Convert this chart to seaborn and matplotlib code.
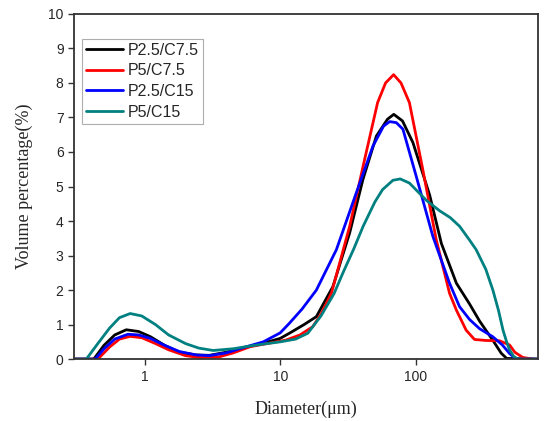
import numpy as np
import pandas as pd
import seaborn as sns
import matplotlib
matplotlib.use("Agg")
import matplotlib.pyplot as plt
from matplotlib.ticker import FixedLocator, NullLocator

# Particle size distribution values
labels = ["P2.5/C7.5", "P5/C7.5", "P2.5/C15", "P5/C15"]
colors = ["#000000", "#ff0000", "#0000ff", "#008080"]

d_black = [0.3, 0.42, 0.5, 0.6, 0.73, 0.9, 1.1, 1.4, 1.8, 2.4, 3, 4, 5, 7.5, 10, 11.7, 15,
           18.5, 24.5, 32.6, 40.8, 51.3, 62, 69, 80, 95.6, 127, 155, 200, 250, 297, 371,
           429, 470, 800]
v_black = [0, 0, 0.4, 0.7, 0.85, 0.8, 0.65, 0.4, 0.2, 0.12, 0.11, 0.2, 0.3, 0.46, 0.6, 0.75, 1.0,
           1.23, 2.1, 3.66, 5.2, 6.46, 6.95, 7.09, 6.9, 6.27, 4.75, 3.35, 2.2, 1.6, 1.1, 0.55,
           0.17, 0.02, 0]

d_red = [0.3, 0.45, 0.55, 0.65, 0.78, 0.95, 1.2, 1.5, 2, 2.5, 3.5, 4.5, 6, 8, 11, 14, 17.4,
         20, 23.9, 32.6, 42, 52.4, 60, 68.8, 78, 90, 113, 142, 178, 200, 236, 272, 330, 417,
         494, 540, 617, 731, 800]
v_red = [0, 0, 0.35, 0.58, 0.66, 0.62, 0.45, 0.27, 0.1, 0.05, 0.06, 0.18, 0.36, 0.45, 0.55, 0.7, 0.94,
         1.3, 1.91, 3.85, 5.78, 7.43, 8.0, 8.24, 8.0, 7.43, 5.49, 3.46, 1.91, 1.42, 0.84, 0.57, 0.54, 0.53,
         0.41, 0.2, 0.05, 0, 0]

d_blue = [0.3, 0.43, 0.5, 0.6, 0.75, 0.9, 1.1, 1.4, 1.8, 2.4, 3, 4, 5, 7.5, 10, 11.7, 14.5,
          18.5, 26, 36.5, 48.4, 58, 64.3, 72, 80.6, 101, 134, 178, 211, 250, 297, 371, 437,
          495, 553, 800]
v_blue = [0, 0, 0.3, 0.58, 0.72, 0.7, 0.6, 0.4, 0.22, 0.12, 0.1, 0.18, 0.3, 0.5, 0.76, 1.04, 1.45,
          2.0, 3.17, 4.82, 6.17, 6.75, 6.88, 6.85, 6.66, 5.3, 3.56, 2.2, 1.52, 1.15, 0.88, 0.65, 0.41,
          0.16, 0, 0]

d_teal = [0.3, 0.37, 0.45, 0.55, 0.65, 0.78, 0.95, 1.2, 1.5, 2.0, 2.5, 3.2, 4.5, 6, 8, 10, 13,
          16, 20, 25, 29, 35, 41, 50, 57, 68, 77, 90, 120, 150, 180, 211, 250, 280, 330, 372,
          410, 442, 470, 495, 530, 570, 800]
v_teal = [0, 0, 0.45, 0.9, 1.2, 1.32, 1.25, 1.0, 0.7, 0.45, 0.32, 0.25, 0.3, 0.38, 0.45, 0.5, 0.58,
          0.75, 1.25, 1.9, 2.49, 3.2, 3.85, 4.55, 4.91, 5.18, 5.22, 5.1, 4.6, 4.3, 4.1, 3.85, 3.45, 3.17, 2.6, 2.0,
          1.4, 0.84, 0.5, 0.26, 0.08, 0, 0]

frames = []
for lab, d, v in zip(labels, [d_black, d_red, d_blue, d_teal], [v_black, v_red, v_blue, v_teal]):
    frames.append(pd.DataFrame({"Diameter": d, "Volume": v, "Sample": lab}))
df = pd.concat(frames, ignore_index=True)

sns.set_style("white")
plt.rcParams["font.family"] = ["Liberation Sans", "DejaVu Sans"]

fig = plt.figure(figsize=(5.5, 4.21), dpi=100)
ax = fig.add_axes([0.1345, 0.147, 0.8435, 0.82])

sns.lineplot(data=df, x="Diameter", y="Volume", hue="Sample", hue_order=labels,
             palette=colors, linewidth=2.0, sort=False, estimator=None, ax=ax)

ax.set_xscale("log")
ax.set_xlim(0.3, 800)
ax.set_ylim(0, 10)
ax.xaxis.set_major_locator(FixedLocator([1, 10, 100]))
ax.xaxis.set_minor_locator(NullLocator())
ax.set_xticklabels(["1", "10", "100"])
ax.set_yticks(range(0, 11))

for s in ax.spines.values():
    s.set_color("#333333")
    s.set_linewidth(1.3)
ax.tick_params(axis="both", which="major", direction="out", length=4, width=1.0,
               color="#333333", labelsize=10, bottom=True, left=True, top=False, right=False)

serif = ["Liberation Serif", "DejaVu Serif"]
ax.set_xlabel("Diameter(μm)", fontsize=13, family=serif, labelpad=12)
ax.set_ylabel("Volume percentage(%)", fontsize=13, family=serif, labelpad=11)

leg = ax.legend(loc="upper left", bbox_to_anchor=(0.017, 0.928), borderaxespad=0,
                fontsize=11.5, frameon=True, fancybox=False, handlelength=2.3,
                handletextpad=0.35, labelspacing=0.35, borderpad=0.25, title=None)
leg.get_frame().set_edgecolor("#999999")
leg.get_frame().set_linewidth(0.8)
for line in leg.get_lines():
    line.set_linewidth(2.0)

fig.savefig("out.png", dpi=100)
